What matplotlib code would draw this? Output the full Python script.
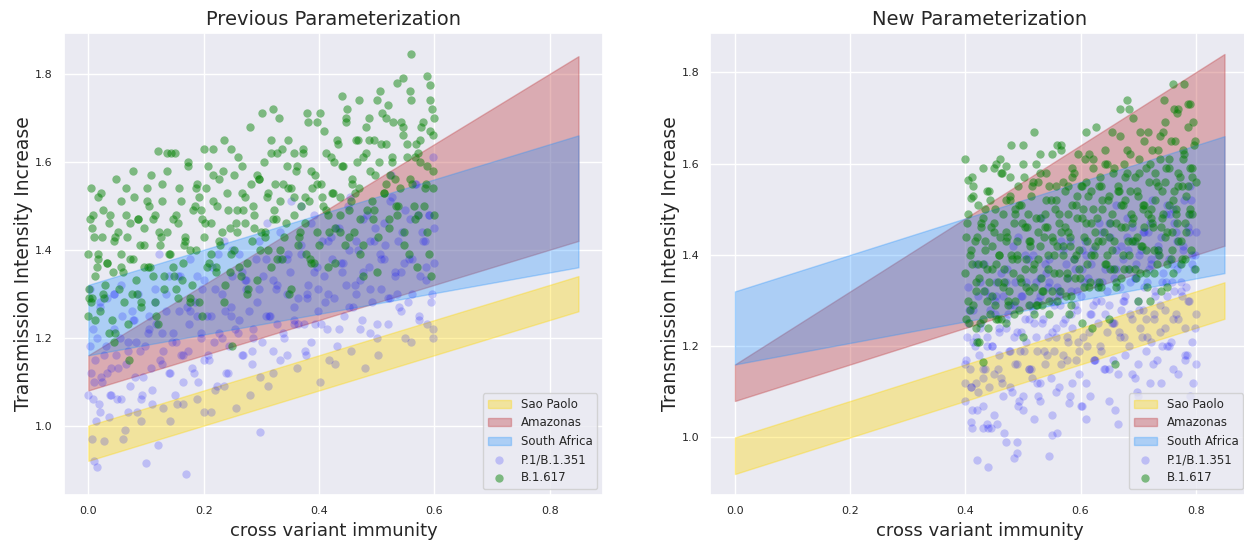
import matplotlib
matplotlib.use("Agg")
import matplotlib.pyplot as plt
import seaborn as sns

## bandas de cada region (x = inmunidad cruzada, inferior/superior)
band_x = [0.0, 0.85]
sao_paolo_low = [0.92, 1.26]
sao_paolo_high = [1.00, 1.34]
amazonas_low = [1.08, 1.42]
amazonas_high = [1.16, 1.84]
south_africa_low = [1.16, 1.36]
south_africa_high = [1.32, 1.66]

## puntos: parametrizacion anterior
prev_p1 = [
    (0.000, 1.07), (0.004, 1.12), (0.006, 0.97), (0.008, 1.22), (0.010, 0.92), (0.012, 1.15), (0.015, 0.905),
    (0.018, 1.05), (0.020, 1.27), (0.024, 1.10), (0.028, 0.965), (0.031, 1.18), (0.035, 1.02), (0.040, 1.13),
    (0.045, 1.30), (0.050, 1.06), (0.055, 1.20), (0.060, 0.97), (0.066, 1.14), (0.072, 1.09), (0.078, 1.24),
    (0.085, 1.03), (0.090, 1.17), (0.095, 1.11), (0.100, 0.915), (0.105, 1.22), (0.110, 1.08), (0.115, 1.31),
    (0.120, 0.955), (0.125, 1.15), (0.130, 1.04), (0.135, 1.26), (0.140, 1.12), (0.145, 1.19), (0.150, 1.07),
    (0.155, 1.34), (0.160, 1.16), (0.165, 1.05), (0.170, 0.89), (0.175, 1.23), (0.180, 1.13), (0.185, 1.28),
    (0.190, 1.10), (0.195, 1.20), (0.200, 1.03), (0.205, 1.25), (0.210, 1.15), (0.215, 1.36), (0.220, 1.08),
    (0.226, 1.21), (0.232, 1.30), (0.238, 1.12), (0.244, 1.18), (0.250, 1.40), (0.256, 1.04), (0.262, 1.24),
    (0.268, 1.16), (0.274, 1.33), (0.280, 1.07), (0.286, 1.22), (0.292, 1.28), (0.298, 0.985), (0.302, 1.19),
    (0.308, 1.38), (0.314, 1.25), (0.320, 1.12), (0.326, 1.31), (0.332, 1.44), (0.338, 1.21), (0.344, 1.16),
    (0.350, 1.35), (0.356, 1.27), (0.362, 1.13), (0.368, 1.41), (0.374, 1.23), (0.380, 1.30), (0.386, 1.19),
    (0.392, 1.48), (0.398, 1.26), (0.402, 1.10), (0.408, 1.34), (0.414, 1.22), (0.420, 1.43), (0.426, 1.29),
    (0.432, 1.18), (0.438, 1.37), (0.444, 1.25), (0.450, 1.50), (0.456, 1.17), (0.462, 1.32), (0.468, 1.40),
    (0.474, 1.24), (0.480, 1.13), (0.486, 1.36), (0.492, 1.28), (0.498, 1.45), (0.502, 1.16), (0.508, 1.31),
    (0.514, 1.41), (0.520, 1.23), (0.526, 1.52), (0.532, 1.35), (0.538, 1.27), (0.544, 1.44), (0.550, 1.20),
    (0.556, 1.38), (0.562, 1.30), (0.568, 1.55), (0.574, 1.25), (0.580, 1.42), (0.586, 1.33), (0.590, 1.48),
    (0.594, 1.28), (0.597, 1.61), (0.600, 1.37), (0.598, 1.22),
    (0.003, 1.18), (0.013, 1.01), (0.022, 1.11), (0.038, 1.07), (0.048, 1.16), (0.058, 1.25), (0.068, 1.03),
    (0.082, 1.19), (0.092, 1.06), (0.108, 1.13), (0.128, 1.21), (0.142, 1.01), (0.158, 1.26), (0.172, 1.17),
    (0.188, 1.06), (0.198, 1.31), (0.218, 1.19), (0.236, 1.09), (0.248, 1.27), (0.266, 1.35), (0.284, 1.14),
    (0.296, 1.31), (0.312, 1.09), (0.328, 1.23), (0.346, 1.39), (0.364, 1.29), (0.378, 1.16), (0.396, 1.36),
    (0.416, 1.30), (0.434, 1.45), (0.452, 1.27), (0.472, 1.33), (0.488, 1.21), (0.506, 1.39), (0.524, 1.29),
    (0.542, 1.35), (0.558, 1.47), (0.576, 1.34), (0.588, 1.23), (0.600, 1.45),
    (0.003, 1.31), (0.009, 1.10), (0.015, 1.20), (0.021, 1.03), (0.027, 1.16), (0.033, 1.29), (0.039, 1.07),
    (0.045, 1.22), (0.051, 1.13), (0.057, 1.32), (0.063, 0.99), (0.069, 1.19), (0.075, 1.26), (0.081, 1.11),
    (0.087, 1.30), (0.093, 1.07), (0.099, 1.18), (0.105, 1.25), (0.111, 1.05), (0.117, 1.23), (0.123, 1.39),
    (0.129, 1.17), (0.135, 1.30), (0.141, 1.12), (0.147, 1.21), (0.153, 1.05), (0.159, 1.34), (0.165, 1.16),
    (0.171, 1.27), (0.177, 1.38), (0.183, 1.12), (0.189, 1.25), (0.195, 1.21), (0.201, 1.33), (0.207, 1.16),
    (0.213, 1.03), (0.219, 1.31), (0.225, 1.39), (0.231, 1.20), (0.237, 1.26), (0.243, 1.12), (0.249, 1.34),
    (0.255, 1.22), (0.261, 1.39), (0.267, 1.16), (0.273, 1.31), (0.279, 1.26), (0.285, 1.20), (0.291, 1.38),
    (0.297, 1.11), (0.303, 1.34), (0.309, 1.46), (0.315, 1.25), (0.321, 1.17), (0.327, 1.32), (0.333, 1.38),
    (0.339, 1.20), (0.345, 1.30), (0.351, 1.51), (0.357, 1.24), (0.363, 1.23), (0.369, 1.39), (0.375, 1.17),
    (0.381, 1.32), (0.387, 1.46), (0.393, 1.23), (0.399, 1.31), (0.405, 1.42), (0.411, 1.28), (0.417, 1.15),
    (0.423, 1.38), (0.429, 1.45), (0.435, 1.22), (0.441, 1.37), (0.447, 1.32), (0.453, 1.52), (0.459, 1.27),
    (0.465, 1.42), (0.471, 1.22), (0.477, 1.35), (0.483, 1.48), (0.489, 1.31), (0.495, 1.42), (0.501, 1.20),
    (0.507, 1.38), (0.513, 1.46), (0.519, 1.29), (0.525, 1.57), (0.531, 1.34), (0.537, 1.42), (0.543, 1.26),
    (0.549, 1.49), (0.555, 1.28), (0.561, 1.38), (0.567, 1.55), (0.573, 1.24), (0.579, 1.44), (0.585, 1.36),
    (0.591, 1.48), (0.597, 1.20),
    (0.008, 1.06), (0.020, 1.28), (0.032, 1.12), (0.044, 1.30), (0.056, 1.06), (0.068, 1.17), (0.080, 1.24),
    (0.092, 1.01), (0.104, 1.21), (0.116, 1.28), (0.128, 1.14), (0.140, 1.34), (0.152, 1.19), (0.164, 1.10),
    (0.176, 1.26), (0.188, 1.34), (0.200, 1.15), (0.212, 1.25), (0.224, 1.09), (0.236, 1.42), (0.248, 1.25),
    (0.260, 1.21), (0.272, 1.33), (0.284, 1.17), (0.296, 1.42), (0.308, 1.25), (0.320, 1.33), (0.332, 1.15),
    (0.344, 1.38), (0.356, 1.23), (0.368, 1.50), (0.380, 1.29), (0.392, 1.35), (0.404, 1.23), (0.416, 1.42),
    (0.428, 1.14), (0.440, 1.35), (0.452, 1.40), (0.464, 1.30), (0.476, 1.47), (0.488, 1.42), (0.500, 1.23),
    (0.512, 1.38), (0.524, 1.51), (0.536, 1.30), (0.548, 1.37), (0.560, 1.19), (0.572, 1.48), (0.584, 1.42),
    (0.596, 1.30),
]
prev_b1617 = [
    (0.000, 1.39), (0.005, 1.28), (0.008, 1.48), (0.012, 1.34), (0.017, 1.52), (0.020, 1.26), (0.024, 1.43),
    (0.029, 1.32), (0.032, 1.37), (0.036, 1.46), (0.041, 1.24), (0.044, 1.42), (0.048, 1.56), (0.053, 1.31),
    (0.056, 1.39), (0.060, 1.35), (0.065, 1.48), (0.068, 1.23), (0.072, 1.46), (0.077, 1.38), (0.080, 1.52),
    (0.084, 1.30), (0.089, 1.41), (0.092, 1.27), (0.096, 1.45), (0.101, 1.51), (0.104, 1.36), (0.108, 1.57),
    (0.113, 1.34), (0.116, 1.48), (0.120, 1.23), (0.125, 1.41), (0.128, 1.55), (0.132, 1.31), (0.137, 1.44),
    (0.140, 1.39), (0.144, 1.62), (0.149, 1.34), (0.152, 1.48), (0.156, 1.29), (0.161, 1.51), (0.164, 1.37),
    (0.168, 1.43), (0.173, 1.59), (0.176, 1.40), (0.180, 1.32), (0.185, 1.50), (0.188, 1.55), (0.192, 1.28),
    (0.197, 1.47), (0.200, 1.43), (0.204, 1.54), (0.209, 1.37), (0.212, 1.46), (0.216, 1.63), (0.221, 1.35),
    (0.224, 1.50), (0.228, 1.41), (0.233, 1.58), (0.236, 1.28), (0.240, 1.53), (0.245, 1.45), (0.248, 1.39),
    (0.252, 1.57), (0.257, 1.44), (0.260, 1.61), (0.264, 1.34), (0.269, 1.49), (0.272, 1.52), (0.276, 1.37),
    (0.281, 1.68), (0.284, 1.42), (0.288, 1.48), (0.293, 1.33), (0.296, 1.56), (0.300, 1.44), (0.304, 1.60),
    (0.309, 1.52), (0.312, 1.40), (0.316, 1.65), (0.321, 1.47), (0.324, 1.55), (0.328, 1.38), (0.333, 1.51),
    (0.336, 1.63), (0.340, 1.43), (0.345, 1.59), (0.348, 1.30), (0.352, 1.54), (0.357, 1.48), (0.360, 1.58),
    (0.364, 1.41), (0.369, 1.50), (0.372, 1.63), (0.376, 1.46), (0.381, 1.69), (0.384, 1.38), (0.388, 1.54),
    (0.393, 1.57), (0.396, 1.44), (0.400, 1.41), (0.404, 1.55), (0.409, 1.67), (0.412, 1.49), (0.416, 1.36),
    (0.421, 1.61), (0.424, 1.53), (0.428, 1.45), (0.433, 1.64), (0.436, 1.52), (0.440, 1.59), (0.445, 1.41),
    (0.448, 1.72), (0.452, 1.49), (0.457, 1.55), (0.460, 1.44), (0.464, 1.65), (0.469, 1.54), (0.472, 1.39),
    (0.476, 1.61), (0.481, 1.68), (0.484, 1.49), (0.488, 1.58), (0.493, 1.47), (0.496, 1.65), (0.500, 1.35),
    (0.504, 1.60), (0.509, 1.71), (0.512, 1.53), (0.516, 1.64), (0.521, 1.45), (0.524, 1.57), (0.528, 1.69),
    (0.533, 1.50), (0.536, 1.78), (0.540, 1.54), (0.545, 1.66), (0.548, 1.44), (0.552, 1.61), (0.557, 1.56),
    (0.560, 1.74), (0.564, 1.50), (0.569, 1.64), (0.572, 1.48), (0.576, 1.60), (0.581, 1.69), (0.584, 1.54),
    (0.588, 1.44), (0.593, 1.67), (0.560, 1.845),
    (0.588, 1.795), (0.545, 1.79), (0.592, 1.775), (0.440, 1.75), (0.600, 1.70), (0.598, 1.66), (0.597, 1.58),
    (0.600, 1.48), (0.070, 1.15), (0.250, 1.18), (0.045, 1.19), (0.000, 1.25), (0.002, 1.29), (0.003, 1.47),
    (0.004, 1.54), (0.150, 1.62), (0.120, 1.625), (0.200, 1.63), (0.380, 1.71), (0.320, 1.72), (0.330, 1.70),
    (0.595, 1.34), (0.570, 1.36), (0.590, 1.39), (0.500, 1.74), (0.470, 1.74), (0.520, 1.73), (0.010, 1.43),
    (0.015, 1.36), (0.025, 1.30),
    (0.002, 1.31), (0.007, 1.45), (0.012, 1.24), (0.017, 1.39), (0.022, 1.53), (0.027, 1.29), (0.032, 1.37),
    (0.037, 1.48), (0.042, 1.35), (0.047, 1.21), (0.052, 1.44), (0.057, 1.51), (0.062, 1.28), (0.067, 1.43),
    (0.072, 1.38), (0.077, 1.58), (0.082, 1.33), (0.087, 1.47), (0.092, 1.28), (0.097, 1.41), (0.102, 1.54),
    (0.107, 1.36), (0.112, 1.47), (0.117, 1.25), (0.122, 1.44), (0.127, 1.51), (0.132, 1.34), (0.137, 1.62),
    (0.142, 1.39), (0.147, 1.47), (0.152, 1.31), (0.157, 1.54), (0.162, 1.33), (0.167, 1.42), (0.172, 1.60),
    (0.177, 1.29), (0.182, 1.49), (0.187, 1.40), (0.192, 1.52), (0.197, 1.25), (0.202, 1.46), (0.207, 1.59),
    (0.212, 1.39), (0.217, 1.51), (0.222, 1.36), (0.227, 1.56), (0.232, 1.44), (0.237, 1.32), (0.242, 1.49),
    (0.247, 1.63), (0.252, 1.40), (0.257, 1.49), (0.262, 1.36), (0.267, 1.59), (0.272, 1.46), (0.277, 1.31),
    (0.282, 1.55), (0.287, 1.45), (0.292, 1.57), (0.297, 1.40), (0.302, 1.71), (0.307, 1.44), (0.312, 1.53),
    (0.317, 1.36), (0.322, 1.49), (0.327, 1.62), (0.332, 1.40), (0.337, 1.55), (0.342, 1.46), (0.347, 1.65),
    (0.352, 1.31), (0.357, 1.52), (0.362, 1.59), (0.367, 1.44), (0.372, 1.62), (0.377, 1.39), (0.382, 1.51),
    (0.387, 1.58), (0.392, 1.37), (0.397, 1.55), (0.402, 1.71), (0.407, 1.50), (0.412, 1.62), (0.417, 1.44),
    (0.422, 1.53), (0.427, 1.37), (0.432, 1.65), (0.437, 1.48), (0.442, 1.59), (0.447, 1.70), (0.452, 1.43),
    (0.457, 1.56), (0.462, 1.53), (0.467, 1.65), (0.472, 1.47), (0.477, 1.34), (0.482, 1.62), (0.487, 1.70),
    (0.492, 1.51), (0.497, 1.57), (0.502, 1.43), (0.507, 1.64), (0.512, 1.53), (0.517, 1.70), (0.522, 1.47),
    (0.527, 1.61), (0.532, 1.56), (0.537, 1.50), (0.542, 1.69), (0.547, 1.41), (0.552, 1.64), (0.557, 1.76),
    (0.562, 1.55), (0.567, 1.47), (0.572, 1.62), (0.577, 1.68), (0.582, 1.50), (0.587, 1.59), (0.592, 1.74),
    (0.597, 1.54),
    (0.006, 1.29), (0.016, 1.38), (0.026, 1.49), (0.036, 1.21), (0.046, 1.43), (0.056, 1.36), (0.066, 1.54),
    (0.076, 1.30), (0.086, 1.47), (0.096, 1.36), (0.106, 1.50), (0.116, 1.28), (0.126, 1.43), (0.136, 1.58),
    (0.146, 1.36), (0.156, 1.46), (0.166, 1.41), (0.176, 1.28), (0.186, 1.54), (0.196, 1.49), (0.206, 1.36),
    (0.216, 1.57), (0.226, 1.42), (0.236, 1.65), (0.246, 1.35), (0.256, 1.46), (0.266, 1.53), (0.276, 1.30),
    (0.286, 1.50), (0.296, 1.56), (0.306, 1.43), (0.316, 1.62), (0.326, 1.47), (0.336, 1.38), (0.346, 1.54),
    (0.356, 1.62), (0.366, 1.43), (0.376, 1.52), (0.386, 1.37), (0.396, 1.69), (0.406, 1.52), (0.416, 1.48),
    (0.426, 1.60), (0.436, 1.44), (0.446, 1.69), (0.456, 1.51), (0.466, 1.60), (0.476, 1.41), (0.486, 1.65),
    (0.496, 1.49), (0.506, 1.76), (0.516, 1.55), (0.526, 1.60), (0.536, 1.48), (0.546, 1.68), (0.556, 1.39),
    (0.566, 1.61), (0.576, 1.65), (0.586, 1.55), (0.596, 1.72),
]

## puntos: parametrizacion nueva
new_p1 = [
    (0.400, 1.08), (0.403, 1.22), (0.405, 1.33), (0.408, 1.15), (0.411, 1.02), (0.414, 1.28), (0.416, 1.20),
    (0.419, 1.12), (0.422, 1.31), (0.424, 1.18), (0.427, 1.25), (0.430, 1.07), (0.432, 1.38), (0.435, 1.15),
    (0.438, 1.22), (0.441, 1.11), (0.443, 1.31), (0.446, 1.20), (0.449, 1.05), (0.451, 1.27), (0.454, 1.34),
    (0.457, 1.15), (0.459, 1.23), (0.462, 1.13), (0.465, 1.31), (0.468, 1.01), (0.470, 1.26), (0.473, 1.37),
    (0.476, 1.19), (0.478, 1.29), (0.481, 1.10), (0.484, 1.22), (0.486, 1.34), (0.489, 1.16), (0.492, 1.44),
    (0.495, 1.19), (0.497, 1.31), (0.500, 1.09), (0.503, 1.26), (0.505, 1.21), (0.508, 1.39), (0.511, 1.15),
    (0.513, 1.29), (0.516, 1.13), (0.519, 1.25), (0.522, 1.34), (0.524, 1.19), (0.527, 1.09), (0.530, 1.31),
    (0.532, 1.48), (0.535, 1.26), (0.538, 1.16), (0.540, 1.36), (0.543, 1.22), (0.546, 1.39), (0.549, 1.13),
    (0.551, 1.30), (0.554, 1.19), (0.557, 1.24), (0.559, 1.33), (0.562, 1.11), (0.565, 1.29), (0.567, 1.43),
    (0.570, 1.18), (0.573, 1.26), (0.576, 1.22), (0.578, 1.35), (0.581, 1.09), (0.584, 1.32), (0.586, 1.24),
    (0.589, 1.39), (0.592, 1.17), (0.594, 1.28), (0.597, 1.14), (0.600, 1.31), (0.603, 1.37), (0.605, 1.22),
    (0.608, 1.43), (0.611, 1.20), (0.613, 1.35), (0.616, 1.09), (0.619, 1.27), (0.622, 1.41), (0.624, 1.17),
    (0.627, 1.30), (0.630, 1.25), (0.632, 1.47), (0.635, 1.19), (0.638, 1.34), (0.640, 1.15), (0.643, 1.37),
    (0.646, 1.23), (0.649, 1.29), (0.651, 1.44), (0.654, 1.25), (0.657, 1.17), (0.659, 1.35), (0.662, 1.41),
    (0.665, 1.14), (0.668, 1.33), (0.670, 1.28), (0.673, 1.39), (0.676, 1.22), (0.678, 1.31), (0.681, 1.48),
    (0.684, 1.20), (0.686, 1.34), (0.689, 1.26), (0.692, 1.43), (0.695, 1.13), (0.697, 1.38), (0.700, 1.30),
    (0.703, 1.24), (0.705, 1.41), (0.708, 1.28), (0.711, 1.45), (0.713, 1.19), (0.716, 1.34), (0.719, 1.37),
    (0.722, 1.21), (0.724, 1.52), (0.727, 1.26), (0.730, 1.32), (0.732, 1.17), (0.735, 1.40), (0.738, 1.29),
    (0.740, 1.44), (0.743, 1.36), (0.746, 1.24), (0.749, 1.49), (0.751, 1.31), (0.754, 1.39), (0.757, 1.21),
    (0.759, 1.34), (0.762, 1.47), (0.765, 1.27), (0.767, 1.43), (0.770, 1.14), (0.773, 1.38), (0.776, 1.31),
    (0.778, 1.41), (0.781, 1.24), (0.784, 1.33), (0.786, 1.46), (0.789, 1.30), (0.792, 1.52), (0.794, 1.21),
    (0.797, 1.37), (0.799, 1.40), (0.800, 1.27),
    (0.420, 0.95), (0.440, 0.935), (0.485, 0.955), (0.490, 0.965), (0.545, 0.96), (0.470, 0.99), (0.410, 1.035),
    (0.430, 1.02), (0.440, 1.02), (0.455, 1.03), (0.490, 0.99), (0.500, 1.06), (0.520, 1.04), (0.530, 1.08),
    (0.550, 1.005), (0.560, 1.01), (0.580, 1.075), (0.600, 1.07), (0.610, 1.04), (0.660, 1.06), (0.665, 1.03),
    (0.700, 1.09), (0.720, 1.12), (0.740, 1.12), (0.790, 1.09), (0.795, 1.12), (0.800, 1.16), (0.785, 1.18),
    (0.700, 1.16), (0.650, 1.08), (0.760, 1.15), (0.750, 1.20), (0.400, 1.12), (0.410, 1.11), (0.420, 1.06),
    (0.400, 1.16), (0.790, 1.55), (0.780, 1.52), (0.760, 1.50), (0.720, 1.47), (0.800, 1.45), (0.680, 1.44),
    (0.402, 1.17), (0.406, 1.28), (0.410, 1.11), (0.414, 1.21), (0.418, 1.38), (0.422, 1.10), (0.426, 1.24),
    (0.430, 1.15), (0.434, 1.32), (0.438, 1.03), (0.442, 1.28), (0.446, 1.20), (0.450, 1.14), (0.454, 1.31),
    (0.458, 1.18), (0.462, 1.36), (0.466, 1.09), (0.470, 1.24), (0.474, 1.27), (0.478, 1.11), (0.482, 1.42),
    (0.486, 1.16), (0.490, 1.23), (0.494, 1.08), (0.498, 1.31), (0.502, 1.19), (0.506, 1.34), (0.510, 1.26),
    (0.514, 1.15), (0.518, 1.40), (0.522, 1.22), (0.526, 1.30), (0.530, 1.12), (0.534, 1.25), (0.538, 1.38),
    (0.542, 1.18), (0.546, 1.34), (0.550, 1.05), (0.554, 1.29), (0.558, 1.22), (0.562, 1.32), (0.566, 1.16),
    (0.570, 1.25), (0.574, 1.38), (0.578, 1.21), (0.582, 1.43), (0.586, 1.12), (0.590, 1.29), (0.594, 1.32),
    (0.598, 1.19), (0.602, 1.41), (0.606, 1.34), (0.610, 1.12), (0.614, 1.23), (0.618, 1.38), (0.622, 1.29),
    (0.626, 1.17), (0.630, 1.33), (0.634, 1.20), (0.638, 1.45), (0.642, 1.27), (0.646, 1.32), (0.650, 1.15),
    (0.654, 1.37), (0.658, 1.25), (0.662, 1.51), (0.666, 1.23), (0.670, 1.42), (0.674, 1.30), (0.678, 1.18),
    (0.682, 1.37), (0.686, 1.27), (0.690, 1.46), (0.694, 1.35), (0.698, 1.10), (0.702, 1.40), (0.706, 1.22),
    (0.710, 1.33), (0.714, 1.26), (0.718, 1.45), (0.722, 1.38), (0.726, 1.16), (0.730, 1.31), (0.734, 1.42),
    (0.738, 1.23), (0.742, 1.34), (0.746, 1.28), (0.750, 1.51), (0.754, 1.20), (0.758, 1.38), (0.762, 1.32),
    (0.766, 1.45), (0.770, 1.26), (0.774, 1.34), (0.778, 1.42), (0.782, 1.17), (0.786, 1.30), (0.790, 1.49),
    (0.794, 1.38), (0.798, 1.24),
    (0.405, 1.25), (0.412, 1.06), (0.418, 1.22), (0.425, 1.34), (0.431, 1.13), (0.438, 1.20), (0.445, 1.02),
    (0.451, 1.30), (0.458, 1.24), (0.464, 1.12), (0.471, 1.34), (0.478, 1.19), (0.484, 1.29), (0.491, 1.07),
    (0.497, 1.23), (0.504, 1.40), (0.511, 1.15), (0.517, 1.28), (0.524, 1.12), (0.530, 1.35), (0.537, 1.19),
    (0.544, 1.33), (0.550, 1.23), (0.557, 1.10), (0.563, 1.31), (0.570, 1.41), (0.577, 1.17), (0.583, 1.27),
    (0.590, 1.37), (0.596, 1.21), (0.603, 1.07), (0.610, 1.40), (0.616, 1.27), (0.623, 1.17), (0.629, 1.34),
    (0.636, 1.30), (0.643, 1.15), (0.649, 1.47), (0.656, 1.25), (0.662, 1.37), (0.669, 1.22), (0.676, 1.30),
    (0.682, 1.41), (0.689, 1.14), (0.695, 1.35), (0.702, 1.28), (0.709, 1.45), (0.715, 1.22), (0.722, 1.39),
    (0.728, 1.27), (0.735, 1.41), (0.741, 1.20), (0.748, 1.34), (0.755, 1.49), (0.761, 1.26), (0.768, 1.37),
    (0.775, 1.32), (0.781, 1.18), (0.788, 1.45), (0.794, 1.40),
]
new_b1617 = [
    (0.400, 1.36), (0.403, 1.47), (0.405, 1.30), (0.408, 1.40), (0.411, 1.57), (0.414, 1.29), (0.416, 1.43),
    (0.419, 1.34), (0.422, 1.51), (0.424, 1.21), (0.427, 1.46), (0.430, 1.38), (0.432, 1.32), (0.435, 1.50),
    (0.438, 1.37), (0.441, 1.54), (0.443, 1.27), (0.446, 1.42), (0.449, 1.45), (0.451, 1.29), (0.454, 1.60),
    (0.457, 1.34), (0.459, 1.40), (0.462, 1.26), (0.465, 1.49), (0.468, 1.37), (0.470, 1.52), (0.473, 1.44),
    (0.476, 1.32), (0.478, 1.57), (0.481, 1.39), (0.484, 1.47), (0.486, 1.30), (0.489, 1.43), (0.492, 1.55),
    (0.495, 1.35), (0.497, 1.51), (0.500, 1.22), (0.503, 1.46), (0.505, 1.39), (0.508, 1.49), (0.511, 1.32),
    (0.513, 1.42), (0.516, 1.55), (0.519, 1.38), (0.522, 1.60), (0.524, 1.29), (0.527, 1.45), (0.530, 1.48),
    (0.532, 1.35), (0.535, 1.32), (0.538, 1.46), (0.540, 1.58), (0.543, 1.40), (0.546, 1.27), (0.549, 1.52),
    (0.551, 1.44), (0.554, 1.36), (0.557, 1.55), (0.559, 1.42), (0.562, 1.49), (0.565, 1.32), (0.567, 1.63),
    (0.570, 1.40), (0.573, 1.46), (0.576, 1.35), (0.578, 1.55), (0.581, 1.44), (0.584, 1.29), (0.586, 1.51),
    (0.589, 1.58), (0.592, 1.40), (0.594, 1.48), (0.597, 1.37), (0.600, 1.55), (0.603, 1.25), (0.605, 1.50),
    (0.608, 1.61), (0.611, 1.43), (0.613, 1.53), (0.616, 1.34), (0.619, 1.47), (0.622, 1.59), (0.624, 1.40),
    (0.627, 1.68), (0.630, 1.43), (0.632, 1.55), (0.635, 1.33), (0.638, 1.50), (0.640, 1.45), (0.643, 1.63),
    (0.646, 1.40), (0.649, 1.53), (0.651, 1.37), (0.654, 1.49), (0.657, 1.58), (0.659, 1.43), (0.662, 1.33),
    (0.665, 1.55), (0.668, 1.72), (0.670, 1.51), (0.673, 1.40), (0.676, 1.60), (0.678, 1.46), (0.681, 1.63),
    (0.684, 1.37), (0.686, 1.54), (0.689, 1.43), (0.692, 1.48), (0.695, 1.57), (0.697, 1.35), (0.700, 1.53),
    (0.703, 1.67), (0.705, 1.42), (0.708, 1.50), (0.711, 1.46), (0.713, 1.59), (0.716, 1.33), (0.719, 1.56),
    (0.722, 1.48), (0.724, 1.63), (0.727, 1.41), (0.730, 1.52), (0.732, 1.38), (0.735, 1.55), (0.738, 1.61),
    (0.740, 1.46), (0.743, 1.67), (0.746, 1.44), (0.749, 1.59), (0.751, 1.33), (0.754, 1.51), (0.757, 1.65),
    (0.759, 1.41), (0.762, 1.54), (0.765, 1.49), (0.767, 1.71), (0.770, 1.43), (0.773, 1.57), (0.776, 1.39),
    (0.778, 1.61), (0.781, 1.47), (0.784, 1.53), (0.786, 1.68), (0.789, 1.49), (0.792, 1.41), (0.794, 1.59),
    (0.797, 1.64), (0.799, 1.37), (0.800, 1.56),
    (0.400, 1.61), (0.405, 1.565), (0.410, 1.525), (0.430, 1.59), (0.450, 1.59), (0.460, 1.61), (0.470, 1.595),
    (0.480, 1.64), (0.500, 1.60), (0.520, 1.67), (0.530, 1.62), (0.560, 1.64), (0.610, 1.67), (0.680, 1.74),
    (0.685, 1.72), (0.760, 1.775), (0.780, 1.775), (0.745, 1.74), (0.770, 1.72), (0.790, 1.73), (0.795, 1.69),
    (0.430, 1.165), (0.660, 1.16), (0.420, 1.21), (0.440, 1.24), (0.470, 1.25), (0.520, 1.27), (0.580, 1.27),
    (0.620, 1.24), (0.650, 1.26), (0.700, 1.30), (0.720, 1.30), (0.740, 1.32), (0.760, 1.36),
    (0.401, 1.26), (0.404, 1.49), (0.408, 1.28), (0.411, 1.38), (0.414, 1.55), (0.418, 1.24), (0.421, 1.44),
    (0.424, 1.35), (0.427, 1.47), (0.431, 1.26), (0.434, 1.41), (0.437, 1.54), (0.441, 1.34), (0.444, 1.46),
    (0.447, 1.31), (0.451, 1.50), (0.454, 1.38), (0.457, 1.26), (0.460, 1.44), (0.464, 1.58), (0.467, 1.34),
    (0.470, 1.43), (0.474, 1.30), (0.477, 1.53), (0.480, 1.40), (0.484, 1.27), (0.487, 1.49), (0.490, 1.39),
    (0.493, 1.51), (0.497, 1.34), (0.500, 1.64), (0.503, 1.37), (0.507, 1.46), (0.510, 1.29), (0.513, 1.43),
    (0.517, 1.56), (0.520, 1.33), (0.523, 1.48), (0.526, 1.39), (0.530, 1.58), (0.533, 1.29), (0.536, 1.44),
    (0.540, 1.52), (0.543, 1.37), (0.546, 1.55), (0.550, 1.32), (0.553, 1.43), (0.556, 1.50), (0.559, 1.30),
    (0.563, 1.47), (0.566, 1.64), (0.569, 1.42), (0.573, 1.54), (0.576, 1.36), (0.579, 1.45), (0.583, 1.31),
    (0.586, 1.57), (0.589, 1.39), (0.592, 1.51), (0.596, 1.62), (0.599, 1.35), (0.602, 1.48), (0.606, 1.44),
    (0.609, 1.56), (0.612, 1.38), (0.615, 1.33), (0.619, 1.54), (0.622, 1.61), (0.625, 1.42), (0.629, 1.48),
    (0.632, 1.34), (0.635, 1.55), (0.638, 1.43), (0.642, 1.60), (0.645, 1.38), (0.648, 1.52), (0.652, 1.47),
    (0.655, 1.41), (0.658, 1.59), (0.661, 1.34), (0.665, 1.54), (0.668, 1.66), (0.671, 1.46), (0.675, 1.37),
    (0.678, 1.52), (0.681, 1.58), (0.685, 1.40), (0.688, 1.49), (0.691, 1.70), (0.694, 1.43), (0.698, 1.44),
    (0.701, 1.58), (0.704, 1.36), (0.708, 1.51), (0.711, 1.65), (0.714, 1.41), (0.718, 1.49), (0.721, 1.60),
    (0.724, 1.47), (0.727, 1.36), (0.731, 1.56), (0.734, 1.63), (0.737, 1.40), (0.741, 1.54), (0.744, 1.49),
    (0.747, 1.69), (0.751, 1.45), (0.754, 1.59), (0.757, 1.39), (0.760, 1.52), (0.764, 1.65), (0.767, 1.47),
    (0.770, 1.58), (0.774, 1.38), (0.777, 1.55), (0.780, 1.62), (0.783, 1.45), (0.787, 1.73), (0.790, 1.50),
    (0.793, 1.57),
    (0.402, 1.44), (0.406, 1.25), (0.410, 1.41), (0.414, 1.53), (0.418, 1.32), (0.422, 1.38), (0.426, 1.25),
    (0.430, 1.48), (0.434, 1.43), (0.438, 1.30), (0.442, 1.52), (0.446, 1.37), (0.450, 1.47), (0.454, 1.26),
    (0.458, 1.40), (0.462, 1.58), (0.466, 1.33), (0.470, 1.45), (0.474, 1.29), (0.478, 1.52), (0.482, 1.36),
    (0.486, 1.50), (0.490, 1.40), (0.494, 1.28), (0.498, 1.47), (0.502, 1.57), (0.506, 1.33), (0.510, 1.43),
    (0.514, 1.53), (0.518, 1.37), (0.522, 1.29), (0.526, 1.56), (0.530, 1.42), (0.534, 1.32), (0.538, 1.49),
    (0.542, 1.46), (0.546, 1.30), (0.550, 1.62), (0.554, 1.40), (0.558, 1.52), (0.562, 1.36), (0.566, 1.45),
    (0.570, 1.56), (0.574, 1.31), (0.578, 1.49), (0.582, 1.42), (0.586, 1.59), (0.590, 1.35), (0.594, 1.53),
    (0.598, 1.41), (0.602, 1.55), (0.606, 1.33), (0.610, 1.47), (0.614, 1.62), (0.618, 1.40), (0.622, 1.50),
    (0.626, 1.45), (0.630, 1.33), (0.634, 1.57), (0.638, 1.52), (0.642, 1.38), (0.646, 1.60), (0.650, 1.44),
    (0.654, 1.67), (0.658, 1.37), (0.662, 1.47), (0.666, 1.54), (0.670, 1.35), (0.674, 1.51), (0.678, 1.57),
    (0.682, 1.43), (0.686, 1.62), (0.690, 1.47), (0.694, 1.37), (0.698, 1.54), (0.702, 1.61), (0.706, 1.42),
    (0.710, 1.51), (0.714, 1.36), (0.718, 1.67), (0.722, 1.50), (0.726, 1.46), (0.730, 1.58), (0.734, 1.41),
    (0.738, 1.66), (0.742, 1.48), (0.746, 1.56), (0.750, 1.38), (0.754, 1.61), (0.758, 1.45), (0.762, 1.72),
    (0.766, 1.50), (0.770, 1.55), (0.774, 1.43), (0.778, 1.63), (0.782, 1.39), (0.786, 1.55), (0.790, 1.59),
    (0.794, 1.49), (0.798, 1.65),
]

region_labels = ["Sao Paolo", "Amazonas", "South Africa"]
variant_labels = ["P.1/B.1.351", "B.1.617"]
titles = ["Previous Parameterization", "New Parameterization"]

sns.set_theme(style="darkgrid")
plt.rcParams["font.family"] = ["DejaVu Sans"]

fig = plt.figure(figsize=(12.44, 5.4), dpi=100)
ax1 = fig.add_axes([0.0513, 0.0833, 0.4334, 0.8556])
ax2 = fig.add_axes([0.5711, 0.0833, 0.4329, 0.8556])


def dibujar(ax, titulo, p1, b1617):
    ax.fill_between(band_x, sao_paolo_low, sao_paolo_high, color="gold", alpha=0.35, label=region_labels[0])
    ax.fill_between(band_x, amazonas_low, amazonas_high, color="#C44E52", alpha=0.4, label=region_labels[1])
    ax.fill_between(band_x, south_africa_low, south_africa_high, color="dodgerblue", alpha=0.3, label=region_labels[2])
    ax.scatter([p[0] for p in p1], [p[1] for p in p1], s=36, color="blue", alpha=0.19,
               linewidths=0, label=variant_labels[0])
    ax.scatter([p[0] for p in b1617], [p[1] for p in b1617], s=36, color="green", alpha=0.47,
               linewidths=0, label=variant_labels[1])
    ax.set_title(titulo, fontsize=14, color=".15")
    ax.set_xlabel("cross variant immunity", fontsize=13, color=".15")
    ax.set_ylabel("Transmission Intensity Increase", fontsize=13.5, color=".15", labelpad=1.5)
    ax.set_xticks([0.0, 0.2, 0.4, 0.6, 0.8])
    ax.set_yticks([1.0, 1.2, 1.4, 1.6, 1.8])
    ax.tick_params(labelsize=8, length=0, pad=8, colors=".15")
    ax.legend(loc="lower right", fontsize=8.5, labelspacing=0.45)


dibujar(ax1, titles[0], prev_p1, prev_b1617)
dibujar(ax2, titles[1], new_p1, new_b1617)

fig.savefig("out.png", dpi=100)
